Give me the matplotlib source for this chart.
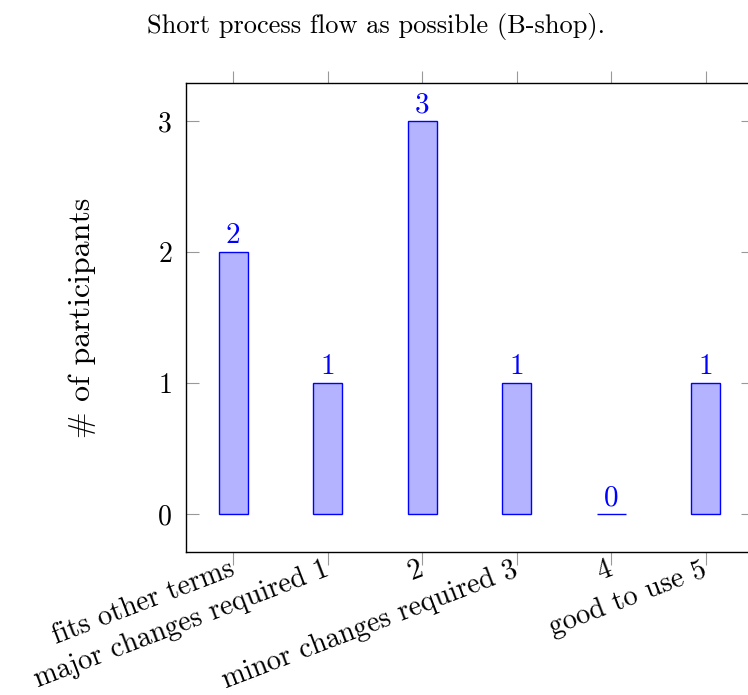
import numpy as np
import matplotlib.pyplot as plt
import matplotlib.transforms as mtransforms

plt.rcParams["font.family"] = "cmr10"
plt.rcParams["mathtext.fontset"] = "cm"
plt.rcParams["axes.formatter.use_mathtext"] = True

categories = ["fits other terms", "major changes required 1", "2",
              "minor changes required 3", "4", "good to use 5"]
participants = [2, 1, 3, 1, 0, 1]
y_ticks = [0, 1, 2, 3]

fig = plt.figure(figsize=(7.48, 6.95), dpi=100)
ax = fig.add_axes([186 / 748, 1 - 552 / 695, 567 / 748, 469 / 695])

x = np.arange(len(categories))
ax.bar(x, participants, width=0.31, color="#b3b3ff", edgecolor="blue", linewidth=1.0)
for xi, v in zip(x, participants):
    ax.annotate(str(v), (xi, v), xytext=(0, 2), textcoords="offset points",
                ha="center", va="bottom", color="blue", fontsize=21)

ax.set_xlim(-0.5, 5.5)
ax.set_ylim(-0.29, 3.29)
ax.set_yticks(y_ticks)
ax.set_xticks(x)
ax.set_xticklabels(categories, rotation=21, ha="right", va="center",
                   rotation_mode="anchor", fontsize=20.5)
# nudge the rotated labels a little left of their tick, like an east anchor
shift = mtransforms.ScaledTranslation(-5 / 100, 0, fig.dpi_scale_trans)
for lbl in ax.get_xticklabels():
    lbl.set_transform(lbl.get_transform() + shift)
ax.tick_params(axis="x", direction="out", length=9, width=0.8, color="#999999",
               top=True, pad=3)
ax.tick_params(axis="y", direction="in", length=9, width=0.8, color="#999999",
               right=True, labelsize=20, pad=10)
for s in ax.spines.values():
    s.set_linewidth(1.0)

ax.set_ylabel("# of participants", fontsize=23, labelpad=44)
fig.text(376 / 748, 1 - 27 / 695, "Short process flow as possible (B-shop).",
         ha="center", va="center", fontsize=19)

fig.savefig("out.png", dpi=100, facecolor="white")
